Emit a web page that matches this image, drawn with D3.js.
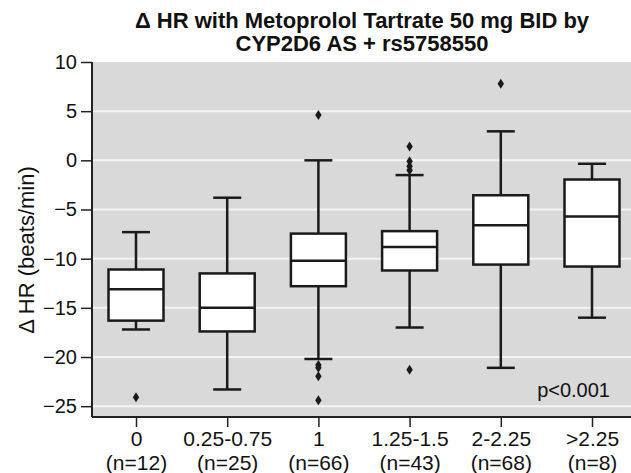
<!DOCTYPE html>
<html>
<head>
<meta charset="utf-8">
<script src="https://cdn.jsdelivr.net/npm/d3@7"></script>
<style>
  body { margin: 0; background: #fff; }
  svg text { font-family: "Liberation Sans", Arial, sans-serif; fill: #111; }
</style>
</head>
<body>
<svg id="chart" width="631" height="473"></svg>
<script>
// data
const groups = ["0", "0.25-0.75", "1", "1.25-1.5", "2-2.25", ">2.25"];
const counts = ["(n=12)", "(n=25)", "(n=66)", "(n=43)", "(n=68)", "(n=8)"];
const whiskerLow  = [-17.2, -23.3, -20.2, -17.0, -21.1, -16.0];
const q1          = [-16.3, -17.4, -12.8, -11.2, -10.6, -10.8];
const medians     = [-13.1, -15.0, -10.2, -8.8, -6.6, -5.7];
const q3          = [-11.1, -11.5, -7.45, -7.2, -3.55, -1.95];
const whiskerHigh = [-7.3, -3.8, 0.0, -1.5, 2.95, -0.35];
const outliers = [
  [-24.1],
  [],
  [4.6, -20.8, -21.1, -21.95, -24.4],
  [1.4, -0.1, -0.6, -1.0, -21.3],
  [7.8],
  []
];
const yTicks = [10, 5, 0, -5, -10, -15, -20, -25];

const svg = d3.select("#chart");
const plotL = 92, plotR = 631, plotT = 62, plotB = 417;

const x = d3.scalePoint().domain(groups).range([136, 592]);
const y = d3.scaleLinear().domain([-26.1, 10]).range([plotB, plotT]);

// background + grid
svg.append("rect")
    .attr("x", plotL).attr("y", plotT)
    .attr("width", plotR - plotL).attr("height", plotB - plotT)
    .attr("fill", "#d9d9d9");

svg.append("g").selectAll("line")
    .data(yTicks.filter(d => d !== 10))
    .join("line")
    .attr("x1", plotL).attr("x2", plotR)
    .attr("y1", d => y(d)).attr("y2", d => y(d))
    .attr("stroke", "#f4f4f4").attr("stroke-width", 2);

// boxes
const boxW = 55, capW = 28;
const boxes = svg.append("g").selectAll("g")
    .data(groups.map((g, i) => ({ g, i })))
    .join("g")
    .attr("transform", d => `translate(${x(d.g)},0)`);

boxes.append("line")
    .attr("y1", d => y(whiskerHigh[d.i])).attr("y2", d => y(q3[d.i]))
    .attr("stroke", "#1a1a1a").attr("stroke-width", 2.5);
boxes.append("line")
    .attr("y1", d => y(q1[d.i])).attr("y2", d => y(whiskerLow[d.i]))
    .attr("stroke", "#1a1a1a").attr("stroke-width", 2.5);
boxes.append("line")
    .attr("x1", -capW / 2).attr("x2", capW / 2)
    .attr("y1", d => y(whiskerHigh[d.i])).attr("y2", d => y(whiskerHigh[d.i]))
    .attr("stroke", "#1a1a1a").attr("stroke-width", 2.5);
boxes.append("line")
    .attr("x1", -capW / 2).attr("x2", capW / 2)
    .attr("y1", d => y(whiskerLow[d.i])).attr("y2", d => y(whiskerLow[d.i]))
    .attr("stroke", "#1a1a1a").attr("stroke-width", 2.5);
boxes.append("rect")
    .attr("x", -boxW / 2).attr("width", boxW)
    .attr("y", d => y(q3[d.i]))
    .attr("height", d => y(q1[d.i]) - y(q3[d.i]))
    .attr("fill", "#fff").attr("stroke", "#1a1a1a").attr("stroke-width", 2.5);
boxes.append("line")
    .attr("x1", -boxW / 2).attr("x2", boxW / 2)
    .attr("y1", d => y(medians[d.i])).attr("y2", d => y(medians[d.i]))
    .attr("stroke", "#1a1a1a").attr("stroke-width", 2.5);

// outliers (diamonds)
boxes.selectAll("path")
    .data(d => outliers[d.i])
    .join("path")
    .attr("d", "M0,-5L3.2,0L0,5L-3.2,0Z")
    .attr("transform", v => `translate(0,${y(v)})`)
    .attr("fill", "#1a1a1a");

// axes
const yAxis = svg.append("g")
    .attr("transform", `translate(${plotL},0)`)
    .call(d3.axisLeft(y).tickValues(yTicks).tickSize(11).tickPadding(4)
        .tickFormat(d => d3.format("")(d).replace("-", "\u2212")));
yAxis.select(".domain").attr("d", `M0,${plotT}V${plotB}`).attr("stroke", "#222").attr("stroke-width", 2);
yAxis.selectAll(".tick line").attr("stroke", "#222").attr("stroke-width", 1.5);
yAxis.selectAll("text").attr("font-size", 20).attr("fill", "#111");

const xAxis = svg.append("g")
    .attr("transform", `translate(0,${plotB})`)
    .call(d3.axisBottom(x).tickSize(10).tickPadding(4));
xAxis.select(".domain").attr("d", `M${plotL},0H${plotR}`).attr("stroke", "#222").attr("stroke-width", 2);
xAxis.selectAll(".tick line").attr("stroke", "#222").attr("stroke-width", 1.5);
xAxis.selectAll("text").attr("font-size", 21).attr("fill", "#111");
xAxis.selectAll(".tick").append("text")
    .attr("y", 53)
    .attr("text-anchor", "middle")
    .attr("font-size", 21)
    .attr("fill", "#111")
    .text((d, i) => counts[i]);

// labels
svg.append("text")
    .attr("transform", `translate(34,250) rotate(-90)`)
    .attr("text-anchor", "middle")
    .attr("font-size", 22)
    .text("\u0394 HR (beats/min)");

const title = svg.append("text")
    .attr("text-anchor", "middle")
    .attr("font-weight", "bold")
    .attr("font-size", 22);
title.append("tspan").attr("x", 362).attr("y", 28).text("\u0394 HR with Metoprolol Tartrate 50 mg BID by");
title.append("tspan").attr("x", 362).attr("y", 51).text("CYP2D6 AS + rs5758550");

svg.append("text")
    .attr("x", 610).attr("y", 397)
    .attr("text-anchor", "end")
    .attr("font-family", "'Open Sans', sans-serif")
    .attr("font-size", 20)
    .text("p<0.001");
</script>
</body>
</html>
